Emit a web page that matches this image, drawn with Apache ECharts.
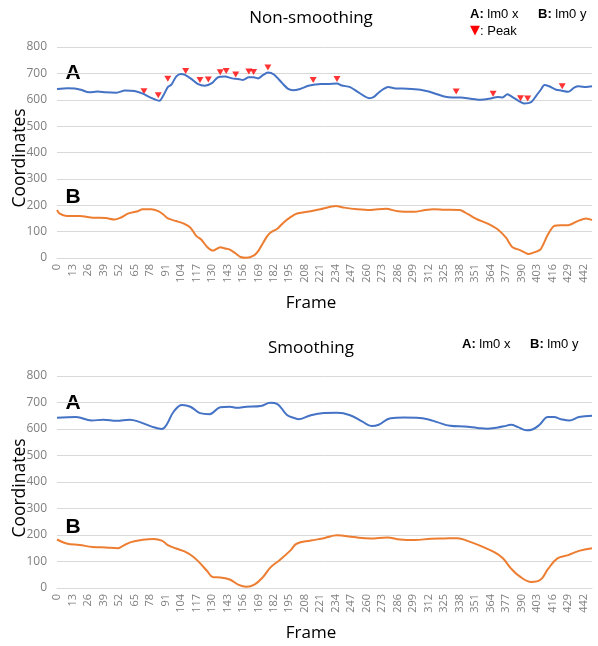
<!DOCTYPE html>
<html><head><meta charset="utf-8">
<script src="https://cdn.jsdelivr.net/npm/echarts@6/dist/echarts.min.js"></script>
<style>html,body{margin:0;padding:0;background:#fff}#c{width:598px;height:646px}</style>
</head><body><div id="c"></div>
<script>
// ---- Data ----
const xTickStep = 13; // x tick labels: 0, 13, 26, ... 442
const frameMax = 449;

// Non-smoothing, A: lm0 x
const rawAFrames = [0,9,15,20,27,34,41,50,57,65,72,79,86,89,93,96,100,104,107,113,118,124,130,135,141,147,152,156,161,165,169,173,177,182,189,194,198,204,211,217,221,227,235,239,246,253,262,266,271,278,284,294,305,312,319,326,332,339,347,356,363,370,374,378,382,388,392,398,402,406,409,413,419,423,429,434,438,444,449];
const rawAValues = [641,644,643,638,628,631,628,627,635,633,623,607,596,614,648,657,688,698,695,678,660,653,663,685,688,681,679,675,685,685,681,694,703,696,663,641,636,641,653,658,660,660,662,654,648,628,606,611,631,648,643,642,638,631,621,611,609,609,604,600,604,610,609,621,611,594,586,591,614,638,656,651,638,635,630,646,651,648,651];

// Non-smoothing, B: lm0 y
const rawBFrames = [0,2,8,19,30,41,48,53,60,67,72,79,85,89,93,100,106,112,117,121,126,131,137,141,145,150,154,159,165,169,176,179,185,190,196,201,213,221,234,241,252,263,276,286,300,308,316,325,338,345,353,361,370,377,382,389,396,401,406,412,417,423,429,437,444,449];
const rawBValues = [182,169,159,159,153,152,146,152,169,176,185,185,178,166,150,140,131,115,83,70,42,28,41,36,32,17,4,1,9,27,80,96,111,134,155,168,177,185,197,191,185,182,187,177,175,181,185,183,182,166,146,131,108,76,42,29,15,22,34,89,121,124,124,140,150,144];

// Peaks (marker positions) on non-smoothing A
const peakFrames = [73,85,93,108,120,127,137,142,150,161,165,177,215,235,335,366,389,395,424];
const peakValues = [632,617,680,709,675,677,704,709,696,707,705,722,675,679,631,623,606,605,651];

// Smoothing, A: lm0 x
const smAFrames = [0,16,29,39,50,61,69,79,88,92,98,105,112,120,128,137,145,151,159,171,179,185,193,200,203,213,224,235,246,256,264,270,280,291,302,311,319,330,342,353,361,370,375,381,387,394,399,405,412,417,423,430,438,449];
const smAValues = [642,645,632,635,631,635,627,610,600,616,666,691,684,660,656,682,684,680,684,687,699,694,653,640,637,652,660,661,652,629,611,616,641,643,642,637,626,612,609,604,601,606,610,616,607,595,598,616,645,645,637,632,645,650];

// Smoothing, B: lm0 y
const smBFrames = [0,8,19,30,41,51,55,62,72,81,88,93,100,107,114,120,126,131,137,145,152,159,166,173,179,187,196,201,213,224,235,249,263,277,288,300,314,325,336,345,356,367,374,381,388,398,406,412,420,429,438,449];
const smBValues = [183,168,162,155,153,150,158,173,182,185,179,162,149,138,119,94,64,41,40,32,13,5,14,42,77,106,142,167,179,188,199,192,187,191,183,181,186,187,188,177,158,135,113,74,45,23,32,71,112,124,140,150];

// ---- Chart ----
const zip = (f, v) => f.map((x, i) => [x, v[i]]);
const BLUE = '#4472C4', ORANGE = '#ED7D31', GRID = '#d9d9d9', LBL = '#7f7f7f';

function xAxis(gi) {
  return {
    type: 'value', gridIndex: gi, min: 0, max: frameMax, interval: xTickStep,
    axisLine: {show: true, lineStyle: {color: GRID}},
    axisTick: {show: false}, splitLine: {show: false},
    axisLabel: {rotate: 90, color: LBL, fontSize: 11, fontFamily: 'Open Sans', margin: 6,
      formatter: v => (v % xTickStep === 0 ? String(v) : '')}
  };
}
function yAxis(gi) {
  return {
    type: 'value', gridIndex: gi, min: 0, max: 800, interval: 100,
    axisLine: {show: false}, axisTick: {show: false},
    splitLine: {lineStyle: {color: GRID, width: 1}},
    axisLabel: {color: LBL, fontSize: 12, fontFamily: 'Open Sans', margin: 10}
  };
}
function line(gi, data, color, smooth) {
  return {type: 'line', xAxisIndex: gi, yAxisIndex: gi, data: data, showSymbol: false,
    smooth: smooth, lineStyle: {color: color, width: 2}, itemStyle: {color: color}, animation: false};
}
function txt(x, y, text, size, opts, rot) {
  return {type: 'text', x: x, y: y, rotation: rot || 0,
    style: Object.assign({text: text, fontSize: size, fill: '#000', fontFamily: 'Open Sans',
      align: 'center', verticalAlign: 'middle'}, opts || {})};
}
function rich(x, y, key, label) {
  return {type: 'text', x: x, y: y, style: {
    text: '{b|' + key + '}{n|' + label + '}', align: 'left', verticalAlign: 'middle',
    rich: {b: {fontWeight: 'bold', fontSize: 13, fontFamily: 'Liberation Sans', fill: '#000'},
           n: {fontSize: 13, fontFamily: 'Liberation Sans', fill: '#000'}}}};
}
const BIG = {fontWeight: 'bold', fontFamily: 'Liberation Sans'};

const chart = echarts.init(document.getElementById('c'), null, {renderer: 'canvas'});
chart.setOption({
  animation: false,
  backgroundColor: '#fff',
  grid: [
    {left: 57, right: 6, top: 47, height: 211},
    {left: 57, right: 6, top: 376, height: 212}
  ],
  xAxis: [xAxis(0), xAxis(1)],
  yAxis: [yAxis(0), yAxis(1)],
  series: [
    line(0, zip(rawAFrames, rawAValues), BLUE, 0.25),
    line(0, zip(rawBFrames, rawBValues), ORANGE, 0.25),
    {type: 'scatter', xAxisIndex: 0, yAxisIndex: 0, data: zip(peakFrames, peakValues),
     symbol: 'triangle', symbolRotate: 180, symbolSize: [7, 6],
     itemStyle: {color: '#ff0000'}, animation: false},
    line(1, zip(smAFrames, smAValues), BLUE, 0.4),
    line(1, zip(smBFrames, smBValues), ORANGE, 0.4)
  ],
  graphic: [
    txt(311, 18, 'Non-smoothing', 17),
    txt(311, 348, 'Smoothing', 17),
    txt(311, 303, 'Frame', 17),
    txt(311, 633, 'Frame', 17),
    txt(20, 158, 'Coordinates', 17.5, {}, Math.PI / 2),
    txt(20, 488, 'Coordinates', 17.5, {}, Math.PI / 2),
    txt(73, 73, 'A', 21, BIG),
    txt(73, 197, 'B', 21, BIG),
    txt(73, 403, 'A', 21, BIG),
    txt(73, 527, 'B', 21, BIG),
    rich(470, 14, 'A:', ' lm0 x'),
    rich(538, 14, 'B:', ' lm0 y'),
    {type: 'text', x: 470, y: 31, style: {text: '{t|▼}{n|: Peak}', align: 'left', verticalAlign: 'middle',
      rich: {t: {fill: '#ff0000', fontSize: 13, fontFamily: 'DejaVu Sans'},
             n: {fontSize: 13, fontFamily: 'Liberation Sans', fill: '#000'}}}},
    rich(462, 344, 'A:', ' lm0 x'),
    rich(530, 344, 'B:', ' lm0 y')
  ]
});
</script></body></html>
